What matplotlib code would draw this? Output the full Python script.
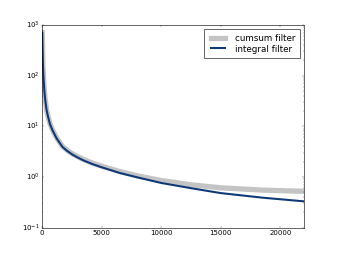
import matplotlib; matplotlib.use("Agg")
import matplotlib.pyplot as plt

# values
steps = [0, 30, 60, 100, 170, 250, 365, 500, 650, 875, 1200, 1700, 2100,
         2550, 3000, 3500, 4200, 5000, 6500, 8000, 10000, 12500, 15000,
         18500, 22000]
integral_filter = [700, 300, 160, 95, 52, 33, 20.7, 15, 11, 8.2, 5.8, 3.9,
                   3.25, 2.75, 2.4, 2.1, 1.8, 1.55, 1.2, 0.98, 0.76, 0.6,
                   0.48, 0.39, 0.33]
cumsum_filter = [700, 300, 160, 95, 52, 33, 20.9, 15.2, 11.2, 8.4, 5.95,
                 4.0, 3.35, 2.85, 2.5, 2.2, 1.88, 1.63, 1.28, 1.05, 0.85,
                 0.7, 0.61, 0.55, 0.52]

plt.style.use("classic")
fig, ax = plt.subplots(figsize=(8, 6), dpi=42.25)
ax.plot(steps, cumsum_filter, color="#c4c4c4", lw=9, label="cumsum filter")
ax.plot(steps, integral_filter, color="#0d3878", lw=3.5, label="integral filter")
ax.set_yscale("log")
ax.set_ylim(0.1, 1000)
ax.set_xlim(0, 22000)
ax.set_xticks([0, 5000, 10000, 15000, 20000])
ax.legend(loc="upper right", fontsize=15, labelspacing=0.2, borderpad=0.5,
          handlelength=2.2, handletextpad=0.8, borderaxespad=0.5)
fig.savefig("out.png", dpi=42.25)
